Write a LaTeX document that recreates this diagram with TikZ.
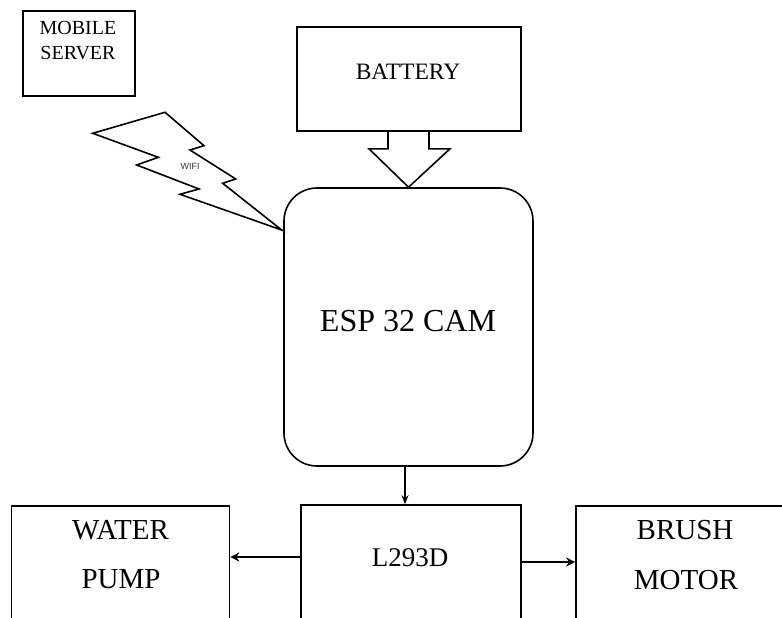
\documentclass[tikz,border=0pt]{standalone}
\usepackage{fontspec}
\setmainfont{Liberation Serif}
\newfontfamily\wififont{Liberation Sans}
\usetikzlibrary{arrows.meta,calc}
\begin{document}
\begin{tikzpicture}[x=1pt,y=-1pt,
  box/.style={draw,line width=1.6pt,inner sep=0pt,rectangle},
  txt/.style={inner sep=0pt,align=center},
  thinarrow/.style={line width=1.3pt,-{Stealth[length=9pt,width=7pt]}},
  thickarrow/.style={line width=2.8pt,-{Stealth[length=9pt,width=9pt]}}]
\useasboundingbox (0,0) rectangle (782,618);
\clip (0,0) rectangle (782,618);
\fill[white] (0,0) rectangle (782,618);

% boxes
\node[box,minimum width=112pt,minimum height=85pt] (mobile) at (79,53.5) {};
\node[box,minimum width=224pt,minimum height=104pt] (bat) at (409,79) {};
\node[box,rounded corners=33pt,minimum width=249pt,minimum height=278pt] (esp) at (408.5,327) {};
\node[box,minimum width=220pt,minimum height=145pt] (l293) at (411,577.5) {};
\node[box,minimum width=218pt,minimum height=144pt] (pump) at (120.5,578) {};
\node[box,minimum width=224pt,minimum height=144pt] (brush) at (688,578) {};

% texts
\node[txt,font=\fontsize{20}{25}\selectfont] (tmobile) at (78,40.5) {MOBILE\\SERVER};
\node[txt,font=\fontsize{23.5}{28}\selectfont] (tbat) at (408,72) {BATTERY};
\node[txt,font=\fontsize{32}{38}\selectfont] (tesp) at (408,321) {ESP 32 CAM};
\node[txt,font=\fontsize{27}{32}\selectfont] (tl293) at (410,558) {L293D};
\node[txt,font=\fontsize{29}{34}\selectfont] (twater) at (120.5,530) {WATER};
\node[txt,font=\fontsize{29}{34}\selectfont] (tpump) at (121,579) {PUMP};
\node[txt,font=\fontsize{29}{34}\selectfont] (tbrush) at (685,530) {BRUSH};
\node[txt,font=\fontsize{29}{34}\selectfont] (tmotor) at (686,580) {MOTOR};

% battery block arrow
\draw[line width=1.6pt,line join=miter]
  ($(bat.south)+(-21,0)$) -- ($(bat.south)+(-21,17)$) -- ($(bat.south)+(-40,17)$)
  -- (esp.north) -- ($(bat.south)+(41,17)$) -- ($(bat.south)+(20,17)$) -- ($(bat.south)+(20,0)$);

% WIFI lightning
\draw[line width=1.6pt,line join=miter]
  (92.7,133.3) -- (165,112.3) -- (204,145.7) -- (190,150) -- (235.7,179)
  -- (222.7,183.3) -- (281.7,230) -- (180,194.3) -- (199,189)
  -- (136.7,165) -- (158.3,157.3) -- cycle;
\node[txt,font=\wififont\fontsize{9}{11}\selectfont,text=black!80] (twifi) at (190,166) {WIFI};

% connectors
\coordinate (yl) at (0,557);
\coordinate (yr) at (0,562);
\draw[thinarrow] ($(esp.south)+(-3.5,0)$) -- ($(l293.north)+(-6,0)$);
\draw[thickarrow] (l293.west |- yl) -- (pump.east |- yl);
\draw[thickarrow] (l293.east |- yr) -- (brush.west |- yr);
\end{tikzpicture}
\end{document}
